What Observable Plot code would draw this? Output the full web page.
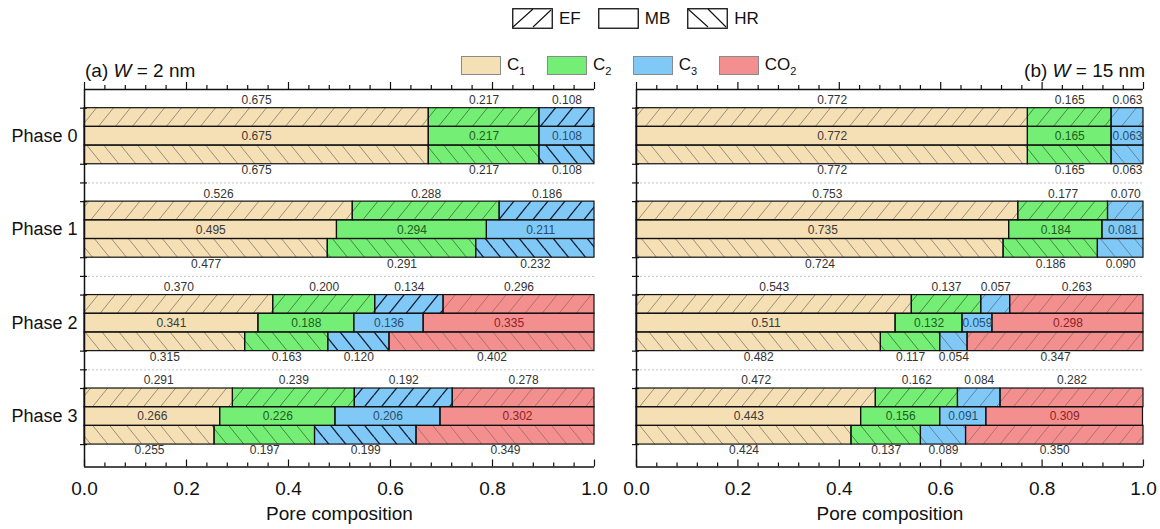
<!DOCTYPE html>
<html><head><meta charset="utf-8">
<script src="https://cdn.jsdelivr.net/npm/d3@7"></script>
<script src="https://cdn.jsdelivr.net/npm/@observablehq/plot@0.6"></script>
<style>
body{margin:0;background:#fff;font-family:"Liberation Sans",Arial,sans-serif;}
#wrap{position:relative;width:1160px;height:529px;overflow:hidden;background:#fff}
.legend{position:absolute;display:flex;align-items:center;font-size:17px;color:#111;white-space:nowrap}
.item{display:flex;align-items:center}
.item svg{display:block}
.title{position:absolute;font-size:19px;color:#111;white-space:nowrap;line-height:19px}
#charts{position:absolute;left:0;top:80px;display:flex}
sub{font-size:11px;vertical-align:-5px;line-height:0}
</style></head><body>
<svg width="0" height="0" style="position:absolute"><defs id="defs"></defs></svg>
<div id="wrap">
 <div class="legend" id="legMode" style="left:512px;top:8px"></div>
 <div class="legend" id="legComp" style="left:461px;top:55px"></div>
 <div class="title" style="left:85px;top:61px">(a) <i>W</i> = 2 nm</div>
 <div class="title" style="right:15px;top:61px">(b) <i>W</i> = 15 nm</div>
 <div id="charts"></div>
</div>
<script>
// ---------------- data ----------------
const phases = ["Phase 0", "Phase 1", "Phase 2", "Phase 3"];
const components = ["C1", "C2", "C3", "CO2"];
const componentLabels = ["C<sub>1</sub>", "C<sub>2</sub>", "C<sub>3</sub>", "CO<sub>2</sub>"];
const modes = ["EF", "MB", "HR"];
const xTickLabels = [0, 0.2, 0.4, 0.6, 0.8, 1.0];

// W = 2 nm : rows = phases, columns = C1, C2, C3, CO2
const w2_EF = [[0.675,0.217,0.108,0],[0.526,0.288,0.186,0],[0.370,0.200,0.134,0.296],[0.291,0.239,0.192,0.278]];
const w2_MB = [[0.675,0.217,0.108,0],[0.495,0.294,0.211,0],[0.341,0.188,0.136,0.335],[0.266,0.226,0.206,0.302]];
const w2_HR = [[0.675,0.217,0.108,0],[0.477,0.291,0.232,0],[0.315,0.163,0.120,0.402],[0.255,0.197,0.199,0.349]];
// W = 15 nm
const w15_EF = [[0.772,0.165,0.063,0],[0.753,0.177,0.070,0],[0.543,0.137,0.057,0.263],[0.472,0.162,0.084,0.282]];
const w15_MB = [[0.772,0.165,0.063,0],[0.735,0.184,0.081,0],[0.511,0.132,0.059,0.298],[0.443,0.156,0.091,0.309]];
const w15_HR = [[0.772,0.165,0.063,0],[0.724,0.186,0.090,0],[0.482,0.117,0.054,0.347],[0.424,0.137,0.089,0.350]];

// ---------------- styles ----------------
const fillColor = {C1: "#F5DFB4", C2: "#74EE74", C3: "#80C9F7", CO2: "#F48F8F"};
const innerText = {C1: "#3a3a3a", C2: "#1d5e1d", C3: "#274e6e", CO2: "#8e2222"};
const hatchStyle = {
  a: {C1: ["#8c8474", 0.9], C2: ["#3c7a3c", 0.9], C3: ["#14223a", 1.4], CO2: ["#a86a6a", 0.9]},
  b: {C1: ["#8c8474", 0.9], C2: ["#3c7a3c", 0.9], C3: ["#5a7d99", 0.9], CO2: ["#a86a6a", 0.9]}
};
const rowOffset = {EF: 0.2, MB: 0.4, HR: 0.6};
const rowHeight = 0.2;
const labelOffset = {EF: 0.115, MB: 0.5, HR: 0.865};
const yMax = 4.04;

// pattern defs
const HW = 17, HH = 21;
let defsHtml = "";
for (const p of ["a", "b"]) for (const c of components) for (const dir of ["f", "b"]) {
  const [col, w] = hatchStyle[p][c];
  const d = dir === "f"
    ? `M0,${HH} L${HW},0 M${-HW},${HH} L0,0 M${HW},${HH} L${2*HW},0`
    : `M0,0 L${HW},${HH} M${-HW},0 L0,${HH} M${HW},0 L${2*HW},${HH}`;
  defsHtml += `<pattern id="h-${p}-${c}-${dir}" patternUnits="userSpaceOnUse" width="${HW}" height="${HH}"><path d="${d}" stroke="${col}" stroke-width="${w}" fill="none"/></pattern>`;
}
document.getElementById("defs").innerHTML = defsHtml;

// legends
const modeIcons = {
  EF: `<path d="M1,19 L21,1 M21,19 L39,2" stroke="#111" stroke-width="1.1"/>`,
  MB: ``,
  HR: `<path d="M1,1 L21,19 M21,1 L39,19" stroke="#111" stroke-width="1.1"/>`
};
document.getElementById("legMode").innerHTML = modes.map(m =>
  `<div class="item" style="margin-right:17px"><svg width="41" height="21"><rect x="0.75" y="0.75" width="39.5" height="19.5" fill="#fff" stroke="#111" stroke-width="1.3"/>${modeIcons[m]}</svg><span style="margin-left:6px">${m}</span></div>`
).join("");
document.getElementById("legComp").innerHTML = components.map((c, i) =>
  `<div class="item" style="margin-right:21.5px"><svg width="40" height="19"><rect x="0.5" y="0.5" width="39" height="18" fill="${fillColor[c]}" stroke="#8a8a8a" stroke-width="1"/></svg><span style="margin-left:6px">${componentLabels[i]}</span></div>`
).join("");

// ---------------- chart ----------------
function buildRows(panel, byMode) {
  const rows = [];
  modes.forEach(m => {
    byMode[m].forEach((vals, p) => {
      let acc = 0;
      vals.forEach((v, ci) => {
        if (v > 0) {
          const c = components[ci];
          let dir = m === "EF" ? "f" : "b";
          if (panel === "b" && c === "CO2" && m === "HR") dir = "f";
          rows.push({phase: p, mode: m, comp: c, v, x1: acc, x2: acc + v,
            y1: p + rowOffset[m], y2: p + rowOffset[m] + rowHeight,
            hatch: m === "MB" ? null : `url(#h-${panel}-${c}-${dir})`});
        }
        acc += v;
      });
    });
  });
  return rows;
}

function drawPanel(panel, byMode, {width, marginLeft, marginRight, showPhase}) {
  const rows = buildRows(panel, byMode);
  const minorTicks = d3.range(0, 26).map(i => i * 0.04).filter(t => Math.abs(t * 5 - Math.round(t * 5)) > 1e-6);
  const yTicks = phases.flatMap((_, i) => [i + rowOffset.EF, i + rowOffset.HR + rowHeight]).concat(d3.range(1, phases.length));
  const tickAt = (ticks, y, len) => Plot.ruleX(ticks, {x: d => d, y1: y, y2: y, insetBottom: len, stroke: "#111", strokeWidth: 1.2});
  const marks = [
    Plot.ruleY(d3.range(1, phases.length), {stroke: "#c4c4c4", strokeDasharray: "2,2", strokeWidth: 1}),
    Plot.rect(rows, {x1: "x1", x2: "x2", y1: "y1", y2: "y2", fill: d => fillColor[d.comp]}),
    Plot.rect(rows.filter(d => d.hatch), {x1: "x1", x2: "x2", y1: "y1", y2: "y2", fill: d => d.hatch}),
    Plot.rect(rows, {x1: "x1", x2: "x2", y1: "y1", y2: "y2", fill: "none", stroke: "#111", strokeWidth: 1.2}),
    Plot.text(rows, {x: d => (d.x1 + d.x2) / 2, y: d => d.phase + labelOffset[d.mode], text: d => d.v.toFixed(3),
      fill: d => d.mode === "MB" ? innerText[d.comp] : "#333", fontSize: 12}),
    Plot.ruleY([0], {stroke: "#111", strokeWidth: 1.5}),
    Plot.ruleY([yMax], {stroke: "#111", strokeWidth: 1.5}),
    Plot.ruleX([0], {y1: 0, y2: yMax, stroke: "#111", strokeWidth: 1.5}),
    tickAt(xTickLabels, 0, 7),
    tickAt(minorTicks, 0, 4),
    tickAt(xTickLabels, yMax, 7),
    tickAt(minorTicks, yMax, 4),
    Plot.ruleY(yTicks, {y: d => d, x1: 0, x2: 0, insetLeft: -4, insetRight: -3, stroke: "#111", strokeWidth: 1.2}),
    Plot.axisX(xTickLabels, {anchor: "bottom", tickSize: 0, tickPadding: 14, tickFormat: d3.format(".1f"), fontSize: 19, fill: "#111", label: null}),
    Plot.text(["Pore composition"], {frameAnchor: "bottom", text: d => d, dy: 46.5, lineAnchor: "middle", fontSize: 19, fill: "#111"})
  ];
  if (showPhase) {
    marks.push(Plot.text(phases, {x: 0, y: (d, i) => i + 0.5, text: d => d, textAnchor: "end", dx: -7, fontSize: 18, fill: "#111"}));
  }
  return Plot.plot({
    width, height: 449, marginTop: 9, marginBottom: 62.5, marginLeft, marginRight,
    x: {domain: [0, 1], axis: null},
    y: {domain: [0, yMax], reverse: true, axis: null},
    color: {type: "identity"},
    style: {fontFamily: "'Liberation Sans', Arial, sans-serif", background: "transparent", overflow: "visible"},
    marks
  });
}

const charts = document.getElementById("charts");
charts.appendChild(drawPanel("a", {EF: w2_EF, MB: w2_MB, HR: w2_HR}, {width: 615, marginLeft: 84, marginRight: 21, showPhase: true}));
charts.appendChild(drawPanel("b", {EF: w15_EF, MB: w15_MB, HR: w15_HR}, {width: 545, marginLeft: 21, marginRight: 17, showPhase: false}));
</script>
</body></html>
